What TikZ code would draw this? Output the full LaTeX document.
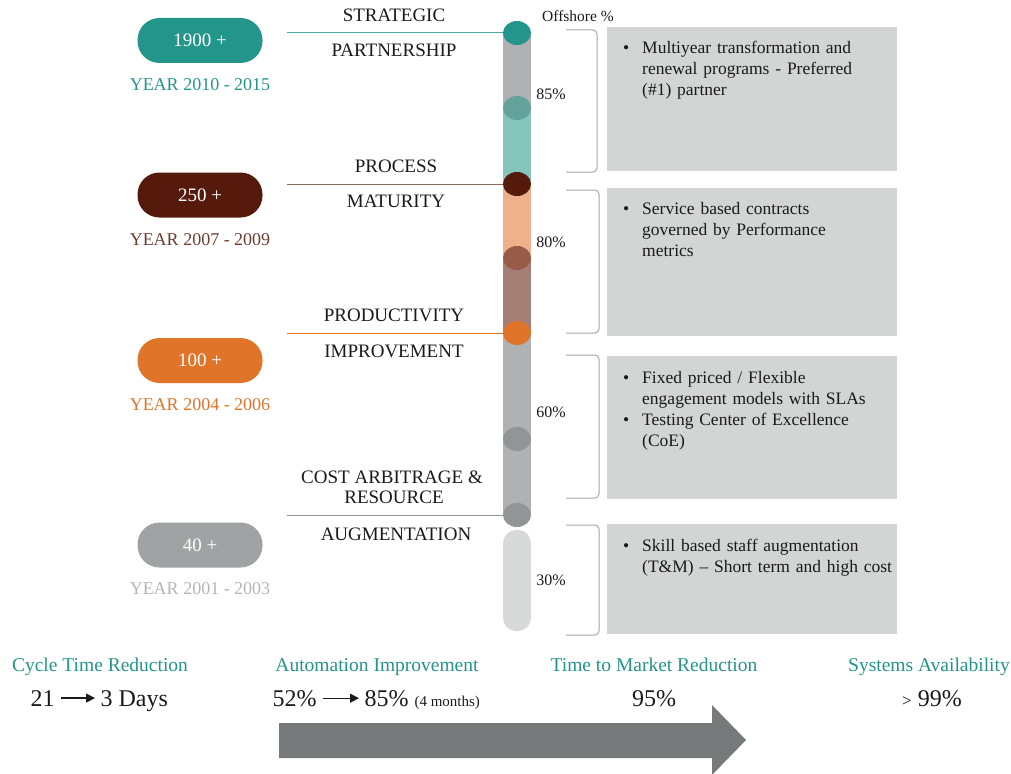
\documentclass[tikz,border=0pt]{standalone}
\usepackage{fontspec}
\setmainfont{Liberation Serif}
\usetikzlibrary{arrows.meta,shapes.geometric}
\definecolor{tealD}{HTML}{23958A}
\definecolor{tealM}{HTML}{63A39B}
\definecolor{tealL}{HTML}{86C5BC}
\definecolor{brownD}{HTML}{561A0D}
\definecolor{brownM}{HTML}{975B47}
\definecolor{brownL}{HTML}{A57F76}
\definecolor{brownLine}{HTML}{8E6A5E}
\definecolor{peach}{HTML}{EEB18B}
\definecolor{orangeD}{HTML}{E07428}
\definecolor{grayPill}{HTML}{A0A3A4}
\definecolor{grayYear}{HTML}{B3B5B6}
\definecolor{barGray}{HTML}{B0B1B3}
\definecolor{dotGray}{HTML}{929596}
\definecolor{barLight}{HTML}{D8D9D9}
\definecolor{boxGray}{HTML}{D3D4D4}
\definecolor{braceGray}{HTML}{A6A6A6}
\definecolor{arrowGray}{HTML}{767A7A}
\definecolor{txt}{HTML}{1A1A1A}
\tikzset{
  pill/.style={rounded corners=22pt, minimum width=125pt, minimum height=45pt, text=white, font=\fontsize{19}{21}\selectfont, inner sep=0pt},
  yearlbl/.style={font=\fontsize{18}{20}\selectfont},
  phase/.style={font=\fontsize{19}{21}\selectfont, text=txt},
  pct/.style={font=\fontsize{16}{18}\selectfont, text=txt},
  infobox/.style={fill=boxGray, anchor=north west, inner sep=0pt},
  bullettxt/.style={anchor=north west, text width=265pt, align=left, inner sep=0pt, font=\fontsize{17.5}{21}\selectfont, text=txt},
  bracket/.style={draw=braceGray, line width=1pt, rounded corners=4pt},
  metric/.style={anchor=base, font=\fontsize{19.5}{22}\selectfont, text=tealD},
  value/.style={anchor=base, font=\fontsize{24}{26}\selectfont, text=txt},
  valarrow/.style={-{Triangle[length=9pt,width=9pt]}, line width=1.3pt, draw=txt, shorten >=2pt},
  dot/.style={ellipse, minimum width=28pt, minimum height=24pt, inner sep=0pt}
}
\newcommand{\bul}{\leavevmode\llap{\textbullet\hspace{13pt}}}
\begin{document}
\begin{tikzpicture}[x=1pt,y=-1pt]
\useasboundingbox (0,0) rectangle (1011,773);

% year pills and year captions
\node[pill, fill=tealD] (p1) at (200,40.5) {1900 +};
\node[pill, fill=brownD] (p2) at (200,195) {250 +};
\node[pill, fill=orangeD] (p3) at (200,360.5) {100 +};
\node[pill, fill=grayPill] (p4) at (200,545) {40 +};
\node[yearlbl, text=tealD] (y1) at (200,85) {YEAR 2010 - 2015};
\node[yearlbl, text=brownD!85!white] (y2) at (200,240) {YEAR 2007 - 2009};
\node[yearlbl, text=orangeD] (y3) at (200,405) {YEAR 2004 - 2006};
\node[yearlbl, text=grayYear] (y4) at (200,589) {YEAR 2001 - 2003};

% vertical offshore bar
\fill[barGray] (503,33) rectangle (531,108);
\fill[tealL] (503,108) rectangle (531,184);
\fill[peach] (503,184) rectangle (531,258);
\fill[brownL] (503,258) rectangle (531,333);
\fill[barGray] (503,333) rectangle (531,515);
\fill[barLight, rounded corners=13pt] (503,530) rectangle (531,631);

\node[dot, fill=tealD] (d1) at (517,33) {};
\node[dot, fill=tealM] (d1b) at (517,108) {};
\node[dot, fill=brownD] (d2) at (517,184) {};
\node[dot, fill=brownM] (d2b) at (517,258) {};
\node[dot, fill=orangeD] (d3) at (517,333) {};
\node[dot, fill=dotGray] (d3b) at (517,439) {};
\node[dot, fill=dotGray] (d4) at (517,515) {};

% phase connectors
\coordinate (c1) at (287,33);
\coordinate (c2) at (287,184);
\coordinate (c3) at (287,333);
\coordinate (c4) at (287,515);
\draw[tealD!80!white, line width=1pt] (c1) -- (d1.west);
\draw[brownLine, line width=1pt] (c2) -- (d2.west);
\draw[orangeD, line width=1pt] (c3) -- (d3.west);
\draw[dotGray, line width=1pt] (c4) -- (d4.west);

% phase titles
\node[phase] (t1a) at (394,15) {STRATEGIC};
\node[phase] (t1b) at (394,50) {PARTNERSHIP};
\node[phase] (t2a) at (396,166) {PROCESS};
\node[phase] (t2b) at (396,201) {MATURITY};
\node[phase] (t3a) at (394,315) {PRODUCTIVITY};
\node[phase] (t3b) at (394,351) {IMPROVEMENT};
\node[phase] (t4a) at (392,477) {COST ARBITRAGE \&};
\node[phase] (t4b) at (394,497) {RESOURCE};
\node[phase] (t4c) at (396,534) {AUGMENTATION};

% offshore percentages
\node[pct, font=\fontsize{15.5}{17}\selectfont] (off) at (578,16) {Offshore \%};
\node[pct] (q1) at (551,94) {85\%};
\node[pct] (q2) at (551,242) {80\%};
\node[pct] (q3) at (551,412) {60\%};
\node[pct] (q4) at (551,580) {30\%};

% brackets
\draw[bracket] (566,30) -- (597,30) -- (597,172) -- (566,172);
\draw[bracket] (566,190) -- (599,190) -- (599,333) -- (566,333);
\draw[bracket] (566,355) -- (599,355) -- (599,498) -- (566,498);
\draw[bracket] (566,525) -- (599,525) -- (599,635) -- (566,635);

% description boxes
\node[infobox, minimum width=290pt, minimum height=144pt] (b1) at (607,27) {};
\node[infobox, minimum width=290pt, minimum height=148pt] (b2) at (607,188) {};
\node[infobox, minimum width=290pt, minimum height=143pt] (b3) at (607,356) {};
\node[infobox, minimum width=290pt, minimum height=110pt] (b4) at (607,524) {};

\node[bullettxt] (tx1) at (642,41) {\bul Multiyear transformation and\\renewal programs - Preferred\\(\#1) partner};
\node[bullettxt] (tx2) at (642,202) {\bul Service based contracts\\governed by Performance\\metrics};
\node[bullettxt] (tx3) at (642,371) {\bul Fixed priced / Flexible\\engagement models with SLAs\\\bul Testing Center of Excellence\\(CoE)};
\node[bullettxt] (tx4) at (642,539) {\bul Skill based staff augmentation\\(T\&M) – Short term and high cost};

% metrics row
\node[metric] (m1) at (100,671) {Cycle Time Reduction};
\node[metric] (m2) at (377,671) {Automation Improvement};
\node[metric] (m3) at (654,671) {Time to Market Reduction};
\node[metric] (m4) at (929,671) {Systems Availability};

\node[value, anchor=base west] (v1a) at (27,706) {21};
\node[value, anchor=base west] (v1b) at (97,706) {3 Days};
\draw[valarrow] ([xshift=3pt]v1a.east) -- (v1a.east -| v1b.west);
\node[value, anchor=base west] (v2a) at (269,706) {52\%};
\node[value, anchor=base west] (v2b) at (361,706) {85\% {\fontsize{15}{17}\selectfont (4 months)}};
\draw[valarrow] ([xshift=3pt]v2a.east) -- (v2a.east -| v2b.west);
\node[value] (v3) at (654,706) {95\%};
\node[value] (v4) at (932,706) {{\fontsize{17}{19}\selectfont >} 99\%};

% progress arrow
\fill[arrowGray] (279,723) -- (712,723) -- (712,705) -- (746,740) -- (712,775) -- (712,758) -- (279,758) -- cycle;
\end{tikzpicture}
\end{document}
